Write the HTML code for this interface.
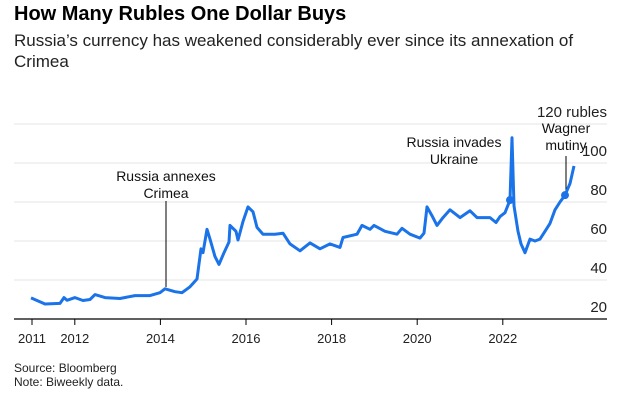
<!DOCTYPE html>
<html><head><meta charset="utf-8">
<style>
body{margin:0;width:639px;height:401px;background:#fff;font-family:"Liberation Sans",sans-serif;color:#000;overflow:hidden;position:relative}
.t{position:absolute;left:14px;top:3px;font-size:20px;font-weight:bold}
.s{position:absolute;left:14px;top:30px;font-size:17px;line-height:21px;width:612px;color:#222}
.f{position:absolute;left:14px;font-size:12px;color:#222}
</style></head><body>
<div class="t">How Many Rubles One Dollar Buys</div>
<div class="s">Russia’s currency has weakened considerably ever since its annexation of Crimea</div>
<svg id="c" width="639" height="401" style="position:absolute;left:0;top:0"></svg>
<div class="f" style="top:361px">Source: Bloomberg</div>
<div class="f" style="top:375px">Note: Biweekly data.</div>
<script>
const xPix=[31,45,60,64,67,75,83,90,95,105,120,135,150,160,165,175,182,190,197,201,203,207,210,215,219,224,229,230,236,238,243,248,253,257,263,275,283,290,300,310,320,330,340,343,357,362,370,374,385,397,402,410,420,424,427,432,437,443,450,460,470,477,490,496,500,505,510,512,514,518,521,525,530,535,540,545,550,555,560,565,570,572,574];
const dates=xPix.map(x=>2011+(x-32)/42.8);
const rubles=[30.8,27.7,28,31,29.6,31,29.5,30,32.5,31,30.5,32,32,33.5,35.5,34,33.5,36.5,40.5,56,54,66,61,52,48,54,59.5,68,65,60.5,70,77.5,75,67,63.5,63.5,64,58.5,55,59,56,58.5,56.7,61.8,63.5,68,66,68,65,63.5,66.5,63.5,61.5,64,77.5,73,68,72,76,72,75.5,72,72,69.5,72.5,74.5,81,113,78,65,58.5,54,61,60,61,65,69,76,80,83.5,89.5,94,98.5];
const yTicks=[20,40,60,80,100,120];
const xTicks=[2011,2012,2014,2016,2018,2020,2022];
const X=d=>32+(d-2011)*42.8;
const Y=v=>319-(v-20)*1.95;
const svg=document.getElementById('c');
const NS='http://www.w3.org/2000/svg';
function mk(t,a){const e=document.createElementNS(NS,t);for(const k in a)e.setAttribute(k,a[k]);svg.appendChild(e);return e;}
yTicks.forEach(v=>{
 if(v>20){const g=mk('line',{x1:14,x2:607,y1:Y(v),y2:Y(v),stroke:'#e6e6e6','stroke-width':1});
 
 }
 const t=mk('text',{x:607,y:Y(v)-7,'text-anchor':'end','font-size':15,fill:'#222'});
 t.textContent=v===120?'120 rubles':v;
 
 
});
const ax=mk('line',{x1:14,x2:607,y1:319,y2:319,stroke:'#000','stroke-width':1.2});


xTicks.forEach(y=>{
 const l=mk('line',{x1:X(y),x2:X(y),y1:319,y2:325,stroke:'#000'});
 
 
 const t=mk('text',{x:X(y),y:343,'text-anchor':'middle','font-size':13,fill:'#222'});
 t.textContent=y;
 
 
});
function ann(lines,x,y0){lines.forEach((s,i)=>{const t=mk('text',{x:x,y:y0+i*17,'text-anchor':'middle','font-size':14,fill:'#111'});t.textContent=s;
 
 });}
const cl=mk('line',{x1:166,x2:166,y1:201,y2:287,stroke:'#000'});


ann(['Russia annexes','Crimea'],166,181);
ann(['Russia invades','Ukraine'],454,147);
const wl=mk('line',{x1:566,x2:566,y1:156,y2:192,stroke:'#000'});


ann(['Wagner','mutiny'],566,133);
const p=mk('path',{d:dates.map((d,i)=>(i?'L':'M')+X(d).toFixed(1)+','+Y(rubles[i]).toFixed(1)).join(''),fill:'none',stroke:'#1a73e8','stroke-width':3,'stroke-linejoin':'round'});


[66,79].forEach(i=>{const c=mk('circle',{cx:X(dates[i]),cy:Y(rubles[i]),r:4,fill:'#1a73e8'});
 
 });
</script>
</body></html>
